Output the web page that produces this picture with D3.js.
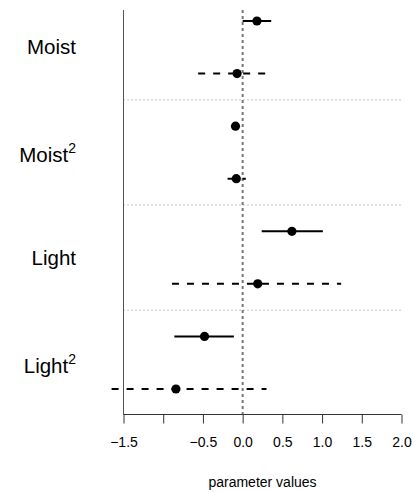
<!DOCTYPE html>
<html>
<head>
<meta charset="UTF-8">
<title>parameter values</title>
<style>
  body { margin: 0; background: #fff; }
  text { font-family: "Liberation Sans", Arial, sans-serif; fill: #000; }
</style>
</head>
<body>
<script src="https://d3js.org/d3.v7.min.js"></script>
<script>
// parameters (one group of two rows each)
var params = ["Moist", "Moist2", "Light", "Light2"];
var labelBase = ["Moist", "Moist", "Light", "Light"];
var labelSup = ["", "2", "", "2"];

// solid line model: estimate and interval
var solidEst = [0.18, -0.09, 0.62, -0.48];
var solidLo = [0.00, -0.10, 0.24, -0.86];
var solidHi = [0.36, -0.08, 1.01, -0.11];

// dashed line model
var dashEst = [-0.07, -0.08, 0.19, -0.84];
var dashLo = [-0.56, -0.19, -0.89, -1.65];
var dashHi = [0.29, 0.04, 1.24, 0.30];

var xTicks = [-1.5, -1.0, -0.5, 0.0, 0.5, 1.0, 1.5, 2.0];
var xTickLabels = ["\u22121.5", "", "\u22120.5", "0.0", "0.5", "1.0", "1.5", "2.0"];

var W = 414, H = 492;
var svg = d3.select("body").append("svg")
  .attr("width", W).attr("height", H);

var x = d3.scaleLinear().domain([-1.5, 2.0]).range([123.5, 401.5]);
// row index: 0..7 top to bottom
var y = d3.scaleLinear().domain([0, 7]).range([21, 389]);
var plotTop = 10, plotBottom = 414.5;

// build rows from the arrays
var rows = [];
params.forEach(function(p, i) {
  rows.push({row: 2 * i, est: solidEst[i], lo: solidLo[i], hi: solidHi[i], dashed: false});
  rows.push({row: 2 * i + 1, est: dashEst[i], lo: dashLo[i], hi: dashHi[i], dashed: true});
});

// group separators
svg.selectAll("line.sep")
  .data([1.5, 3.5, 5.5])
  .enter().append("line")
  .attr("class", "sep")
  .attr("x1", x(-1.5)).attr("x2", x(2.0))
  .attr("y1", function(d) { return y(d); })
  .attr("y2", function(d) { return y(d); })
  .attr("stroke", "#888")
  .attr("stroke-width", 1)
  .attr("stroke-dasharray", "1,3");

// zero reference line
svg.append("line")
  .attr("x1", x(0)).attr("x2", x(0))
  .attr("y1", plotTop).attr("y2", plotBottom)
  .attr("stroke", "#777")
  .attr("stroke-width", 2)
  .attr("stroke-dasharray", "3,3");

// left axis line
svg.append("line")
  .attr("x1", x(-1.5)).attr("x2", x(-1.5))
  .attr("y1", plotTop).attr("y2", plotBottom)
  .attr("stroke", "#555")
  .attr("stroke-width", 1);

// x axis
var xAxis = d3.axisBottom(x)
  .tickValues(xTicks)
  .tickSize(9)
  .tickPadding(14)
  .tickFormat(function(d, i) { return xTickLabels[i]; });

var gx = svg.append("g")
  .attr("transform", "translate(0," + plotBottom + ")")
  .call(xAxis);
gx.select(".domain").attr("stroke", "#333").attr("d", "M" + x(-1.5) + ",0H" + x(2.0));
gx.selectAll(".tick line").attr("stroke", "#333");
gx.selectAll(".tick text")
  .style("font-family", "'Liberation Sans', Arial, sans-serif")
  .style("font-size", "14px")
  .attr("fill", "#000");

// axis title
svg.append("text")
  .attr("x", (x(-1.5) + x(2.0)) / 2)
  .attr("y", 487)
  .attr("text-anchor", "middle")
  .style("font-size", "14px")
  .text("parameter values");

// interval lines
svg.selectAll("line.ci")
  .data(rows)
  .enter().append("line")
  .attr("class", "ci")
  .attr("x1", function(d) { return x(d.lo); })
  .attr("x2", function(d) { return x(d.hi); })
  .attr("y1", function(d) { return y(d.row); })
  .attr("y2", function(d) { return y(d.row); })
  .attr("stroke", "#000")
  .attr("stroke-width", 2)
  .attr("stroke-dasharray", function(d) { return d.dashed ? "7,8" : null; });

// estimates
svg.selectAll("circle")
  .data(rows)
  .enter().append("circle")
  .attr("cx", function(d) { return x(d.est); })
  .attr("cy", function(d) { return y(d.row); })
  .attr("r", 4.6)
  .attr("fill", "#000");

// parameter labels (labels with a superscript sit a little lower)
var lab = svg.selectAll("text.lab")
  .data(params)
  .enter().append("text")
  .attr("class", "lab")
  .attr("x", 76)
  .attr("y", function(d, i) { return y(2 * i + 0.5) + (labelSup[i] ? 10 : 7); })
  .attr("text-anchor", "end")
  .style("font-size", "20.5px");
lab.append("tspan").text(function(d, i) { return labelBase[i]; });
lab.append("tspan")
  .attr("dy", -9)
  .style("font-size", "14px")
  .text(function(d, i) { return labelSup[i]; });
</script>
</body>
</html>
